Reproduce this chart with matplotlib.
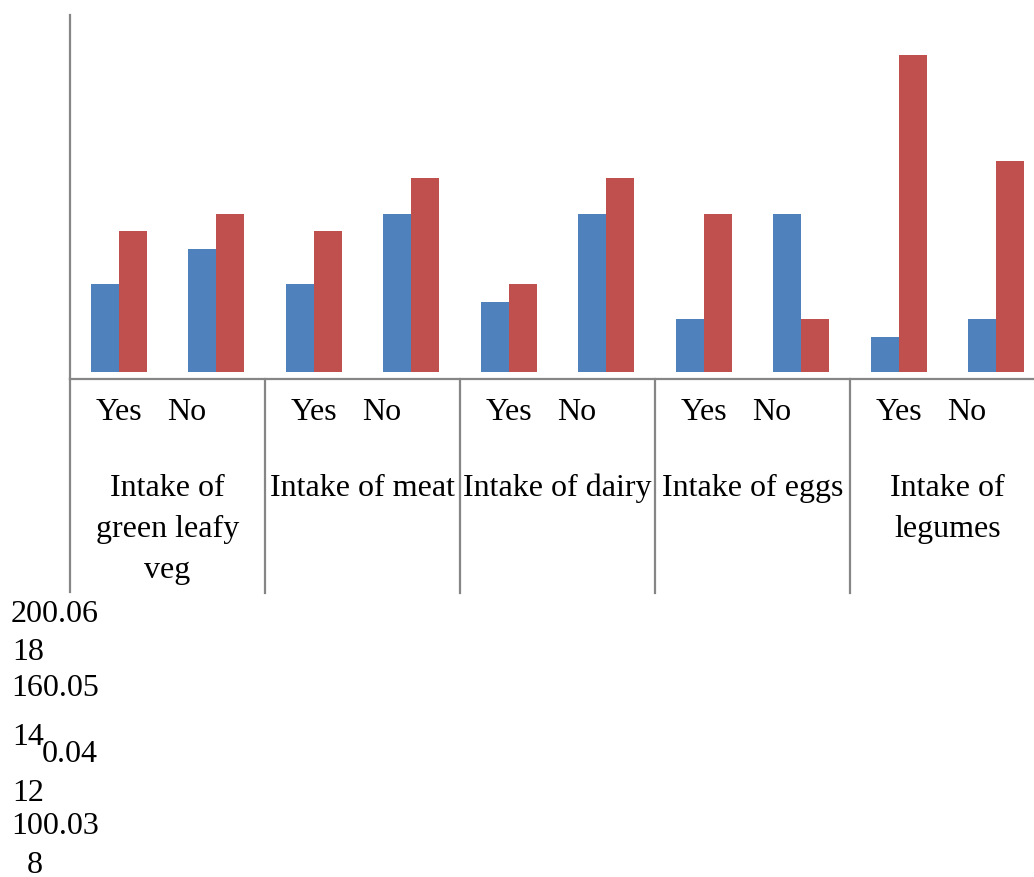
import numpy as np
import matplotlib.pyplot as plt

plt.rcParams['font.family'] = ['Liberation Serif', 'DejaVu Serif']

# Daten: je Gruppe zwei Kategorien (Yes / No), zwei Reihen
groups = ['Intake of\ngreen leafy\nveg', 'Intake of meat', 'Intake of dairy',
          'Intake of eggs', 'Intake of\nlegumes']
answers = ['Yes', 'No']
blue_vals = [5, 7, 5, 9, 4, 9, 3, 9, 2, 3]
red_vals = [8, 9, 8, 11, 5, 11, 9, 3, 18, 12]

# verrutschte Achsenbeschriftungen unten links
left_labels = ['200.06', '18', '160.05', '14', '12', '100.03', '8']
left_label_x = [11, 12, 11, 12, 12, 11, 27]
left_label_base = [622, 660, 696, 745, 801, 834, 873]
extra_label = '0.04'

W, H = 1034, 877
fig = plt.figure(figsize=(W / 100, H / 100), dpi=100)
ax = fig.add_axes([70 / W, (H - 379) / H, 975 / W, 364 / H])

x = np.arange(len(blue_vals))
bw = 0.287
ax.bar(x - bw / 2, blue_vals, bw, color='#4F81BD')
ax.bar(x + bw / 2, red_vals, bw, color='#C0504D')

ax.set_xlim(-0.5, len(blue_vals) - 0.5)
ax.set_ylim(-0.4, 20.28)
ax.set_xticks([])
ax.set_yticks([])
for s in ['top', 'right']:
    ax.spines[s].set_visible(False)
for s in ['left', 'bottom']:
    ax.spines[s].set_color('#868686')
    ax.spines[s].set_linewidth(1.6)

def ypix(p):
    # Pixelzeile -> Achsenbruchteil
    return (379 - p) / 364

tr = ax.get_xaxis_transform()
gray = '#868686'
# linke Achse nach unten verlaengert, Trennlinien zwischen den Gruppen
ax.plot([-0.5, -0.5], [0, ypix(592)], color=gray, lw=1.6, transform=tr, clip_on=False)
for k in range(1, len(groups)):
    xs = 2 * k - 0.5
    ax.plot([xs, xs], [0, ypix(593)], color=gray, lw=1.6, transform=tr, clip_on=False)

fs = 23
for i in range(len(blue_vals)):
    lab = answers[i % 2]
    xpos = i if lab == 'Yes' else i - 0.3
    ax.text(xpos, ypix(420), lab, transform=tr, ha='center', va='baseline',
            fontsize=fs, clip_on=False)

# Gruppennamen zeilenweise, Zeilenabstand 41 px
for g, name in enumerate(groups):
    for j, line in enumerate(name.split('\n')):
        ax.text(2 * g + 0.5, ypix(496 + 41 * j), line, transform=tr, ha='center',
                va='baseline', fontsize=fs, clip_on=False)

for lab, lx, lb in zip(left_labels, left_label_x, left_label_base):
    fig.text(lx / W, (H - lb) / H, lab, ha='left', va='baseline', fontsize=fs)
fig.text(42 / W, (H - 762) / H, extra_label, ha='left', va='baseline', fontsize=fs)

fig.savefig('out.png', dpi=100)
